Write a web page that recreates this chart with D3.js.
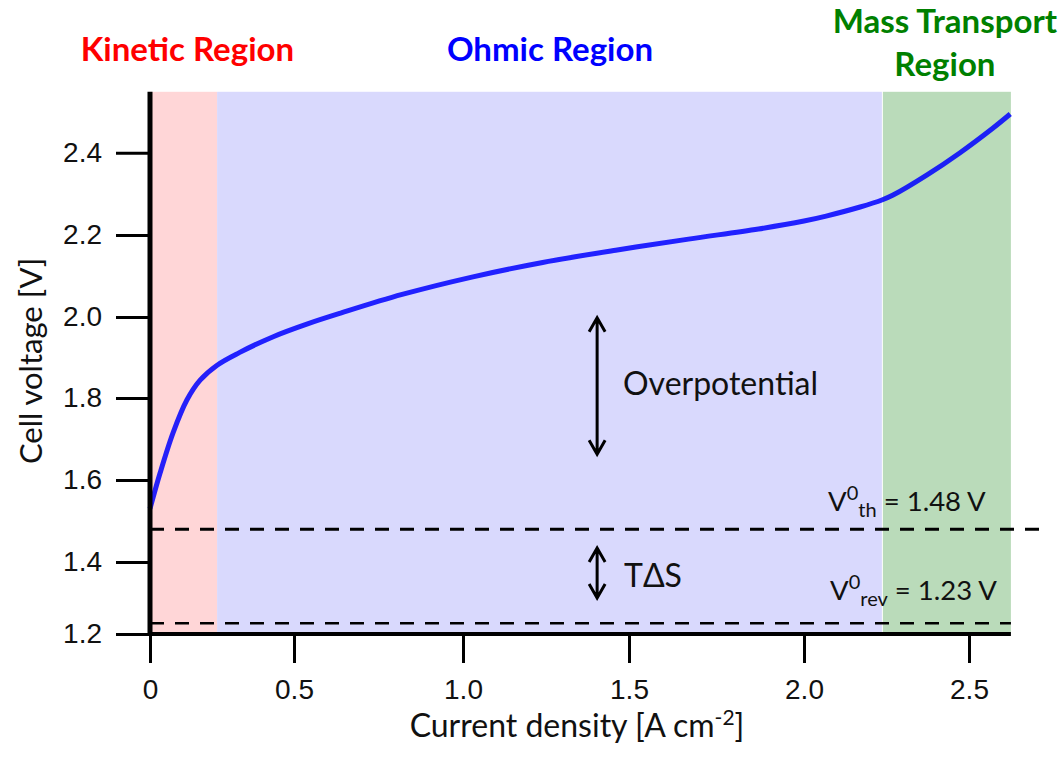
<!DOCTYPE html>
<html>
<head>
<meta charset="utf-8">
<script src="https://cdn.jsdelivr.net/npm/d3@7"></script>
<style>
  body { margin: 0; background: #fff; }
  svg { font-family: Lato, "Open Sans", sans-serif; }
</style>
</head>
<body>
<script>
var WIDTH = 1062;
var HEIGHT = 761;

// polarisation curve
var currentDensity = [0, 0.035, 0.08, 0.128, 0.174, 0.233, 0.31, 0.43, 0.54, 0.64, 0.82, 1.03, 1.24, 1.46, 1.67, 1.87, 2.0, 2.067, 2.17, 2.236, 2.27, 2.373, 2.473, 2.573, 2.625];
var cellVoltage    = [1.53, 1.617, 1.715, 1.795, 1.844, 1.881, 1.912, 1.952, 1.983, 2.01, 2.055, 2.098, 2.133, 2.163, 2.19, 2.2146, 2.234, 2.246, 2.268, 2.285, 2.297, 2.346, 2.40, 2.46, 2.494];

var regionNames  = ["Kinetic Region", "Ohmic Region", "Mass Transport Region"];
var regionStarts = [0, 0.233, 2.236];
var regionEnds   = [0.233, 2.236, 2.627];
var regionFill   = ["#ffd6d7", "#d9d9fd", "#badbba"];
var regionText   = ["#ff0000", "#0000ff", "#008000"];

var xTicks = [0, 0.5, 1.0, 1.5, 2.0, 2.5];
var xTickLabels = ["0", "0.5", "1.0", "1.5", "2.0", "2.5"];
var yTicks = [1.2, 1.4, 1.6, 1.8, 2.0, 2.2, 2.4];

var refNames  = ["th", "rev"];
var refValues = [1.48, 1.23];
var refEnds   = [2.74, 2.627];

// the printed axes are not evenly spaced, so the scales follow the tick marks
var xScale = d3.scaleLinear()
    .domain([0, 0.5, 1.0, 1.5, 2.0, 2.5])
    .range([150, 294, 463, 629, 804, 969]);

var yScale = d3.scaleLinear()
    .domain([1.2, 1.4, 1.6, 1.8, 2.0, 2.2, 2.4])
    .range([634, 562, 480, 398, 317, 235, 152.7]);

var yTop = 2.548;

var svg = d3.select('body').append('svg')
    .attr('width', WIDTH)
    .attr('height', HEIGHT);

// shaded regions
svg.append('g').selectAll('rect')
    .data(regionNames)
    .enter()
    .append('rect')
    .attr('x', function (d, i) { return xScale(regionStarts[i]) + (i == 2 ? 1 : 0); })
    .attr('y', yScale(yTop))
    .attr('width', function (d, i) { return xScale(regionEnds[i]) - xScale(regionStarts[i]) - (i == 2 ? 1 : 0); })
    .attr('height', yScale(1.2) - yScale(yTop))
    .attr('fill', function (d, i) { return regionFill[i]; });

// region titles
var titleX = [0.13, 1.262, 2.427];
svg.append('text').attr('x', xScale(titleX[0])).attr('y', 61)
    .attr('text-anchor', 'middle').attr('font-size', 33).attr('font-weight', 'bold')
    .attr('fill', regionText[0]).text(regionNames[0]);
svg.append('text').attr('x', xScale(titleX[1])).attr('y', 61)
    .attr('text-anchor', 'middle').attr('font-size', 33).attr('font-weight', 'bold')
    .attr('fill', regionText[1]).text(regionNames[1]);
var mt = svg.append('text').attr('text-anchor', 'middle').attr('font-size', 33)
    .attr('font-weight', 'bold').attr('fill', regionText[2]);
mt.append('tspan').attr('x', xScale(titleX[2])).attr('y', 33).text('Mass Transport');
mt.append('tspan').attr('x', xScale(titleX[2])).attr('y', 76).text('Region');

// reference voltage lines
svg.append('g').selectAll('line')
    .data(refValues)
    .enter()
    .append('line')
    .attr('x1', xScale(0))
    .attr('x2', function (d, i) { return xScale(refEnds[i]); })
    .attr('y1', function (d) { return yScale(d); })
    .attr('y2', function (d) { return yScale(d); })
    .attr('stroke', '#000')
    .attr('stroke-width', function (d, i) { return i == 0 ? 3 : 2.6; })
    .attr('stroke-dasharray', '14,11');

var refLabelX = [2.073, 2.079];
var refLabelY = [1.5245, 1.294];
refValues.forEach(function (v, i) {
    var t = svg.append('text')
        .attr('x', xScale(refLabelX[i]))
        .attr('y', yScale(refLabelY[i]))
        .attr('font-size', 27.5)
        .attr('fill', '#111');
    t.append('tspan').text('V');
    t.append('tspan').attr('dy', -11).attr('font-size', 20).text('0');
    t.append('tspan').attr('dy', 17).attr('font-size', 20).text(refNames[i]);
    t.append('tspan').attr('dy', -6).text(' = ' + v.toFixed(2) + ' V');
});

// annotation arrows
var arrowX = 1.404;
var arrowSpans = [[1.998, 1.663], [1.434, 1.30]];
var arrowLabels = ['Overpotential', 'T\u0394S'];
var arrowLabelPos = [[1.482, 1.807], [1.485, 1.331]];

var arrowPath = function (top, bottom) {
    var x = xScale(arrowX), y1 = yScale(top), y2 = yScale(bottom), w = 8, h = 14;
    return 'M' + x + ',' + y1 + 'V' + y2 +
        'M' + (x - w) + ',' + (y1 + h) + 'L' + x + ',' + y1 + 'L' + (x + w) + ',' + (y1 + h) +
        'M' + (x - w) + ',' + (y2 - h) + 'L' + x + ',' + y2 + 'L' + (x + w) + ',' + (y2 - h);
};

svg.append('g').selectAll('path')
    .data(arrowSpans)
    .enter()
    .append('path')
    .attr('d', function (d) { return arrowPath(d[0], d[1]); })
    .attr('fill', 'none')
    .attr('stroke', '#000')
    .attr('stroke-width', 3);

svg.append('g').selectAll('text')
    .data(arrowLabels)
    .enter()
    .append('text')
    .attr('x', function (d, i) { return xScale(arrowLabelPos[i][0]); })
    .attr('y', function (d, i) { return yScale(arrowLabelPos[i][1]); })
    .attr('font-size', 32)
    .attr('fill', '#111')
    .text(function (d) { return d; });

// the curve
var points = currentDensity.map(function (x, i) { return {x: x, y: cellVoltage[i]}; });
var line = d3.line()
    .curve(d3.curveCatmullRom.alpha(0.5))
    .x(function (d) { return xScale(d.x); })
    .y(function (d) { return yScale(d.y); });

svg.append('path')
    .attr('d', line(points))
    .attr('fill', 'none')
    .attr('stroke', '#0000ff')
    .attr('stroke-opacity', 0.85)
    .attr('stroke-width', 5);

// axes
var xAxis = d3.axisBottom(xScale)
    .tickValues(xTicks)
    .tickFormat(function (d, i) { return xTickLabels[i]; })
    .tickSize(29)
    .tickPadding(16);

var yAxis = d3.axisLeft(yScale)
    .tickValues(yTicks)
    .tickFormat(d3.format('.1f'))
    .tickSize(34)
    .tickPadding(14);

var gx = svg.append('g')
    .attr('transform', 'translate(0,' + yScale(1.2) + ')')
    .call(xAxis);
var gy = svg.append('g')
    .attr('transform', 'translate(' + xScale(0) + ',0)')
    .call(yAxis);

gx.select('.domain').remove();
gy.select('.domain').remove();
gx.selectAll('line').attr('stroke-width', 3);
gy.selectAll('line').attr('stroke-width', 3);
gx.selectAll('text').attr('font-size', 28).attr('fill', '#111').attr('font-family', null);
gy.selectAll('text').attr('font-size', 28).attr('fill', '#111').attr('font-family', null);

svg.append('line')
    .attr('x1', xScale(0)).attr('x2', xScale(0))
    .attr('y1', yScale(yTop)).attr('y2', yScale(1.2) + 2)
    .attr('stroke', '#000').attr('stroke-width', 5);
svg.append('line')
    .attr('x1', xScale(0)).attr('x2', xScale(2.627))
    .attr('y1', yScale(1.2)).attr('y2', yScale(1.2))
    .attr('stroke', '#000').attr('stroke-width', 4);

// axis titles
var xt = svg.append('text')
    .attr('x', 577)
    .attr('y', 737)
    .attr('text-anchor', 'middle')
    .attr('font-size', 32)
    .attr('fill', '#111');
xt.append('tspan').text('Current density [A cm');
xt.append('tspan').attr('dy', -12).attr('font-size', 21).text('-2');
xt.append('tspan').attr('dy', 12).text(']');

svg.append('text')
    .attr('transform', 'translate(42,361) rotate(-90)')
    .attr('text-anchor', 'middle')
    .attr('font-size', 31)
    .attr('fill', '#111')
    .text('Cell voltage [V]');
</script>
</body>
</html>
